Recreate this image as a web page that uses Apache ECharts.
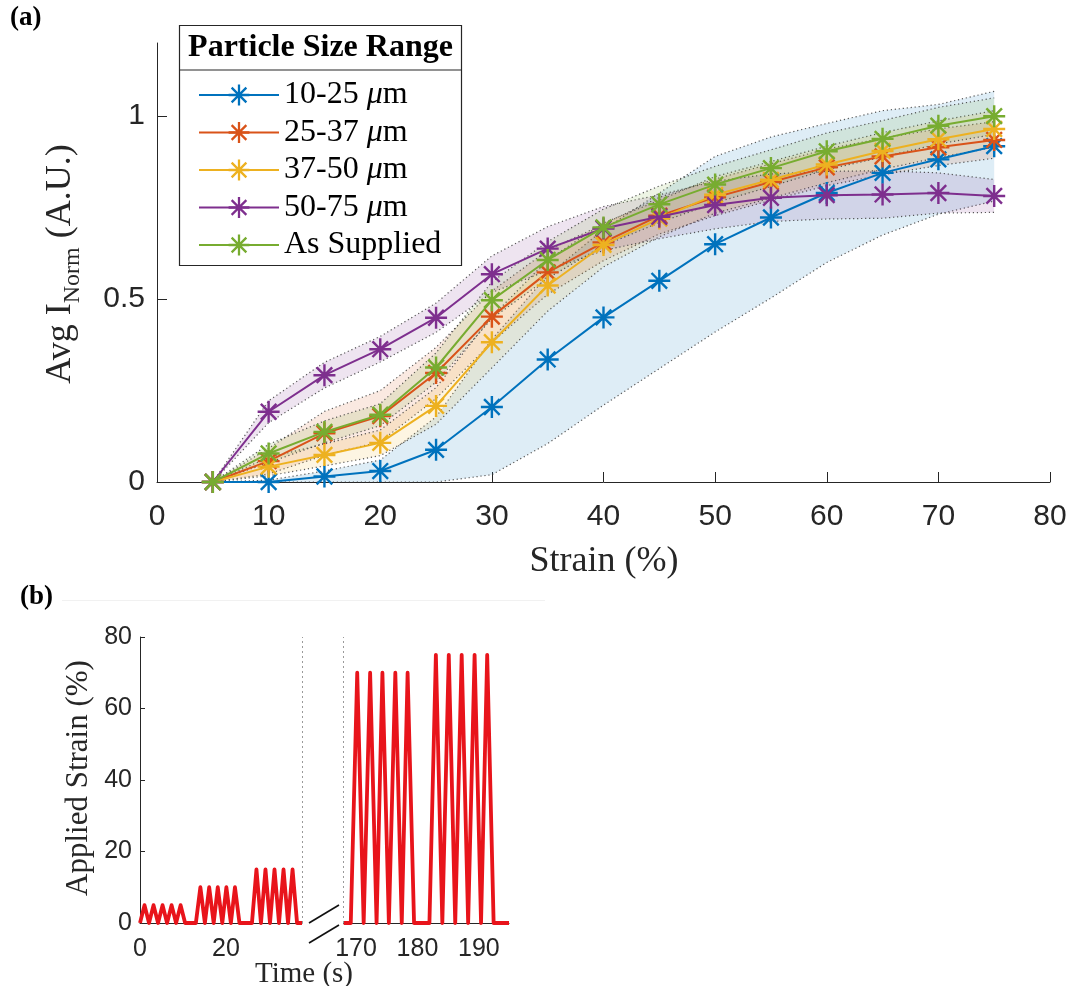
<!DOCTYPE html>
<html>
<head>
<meta charset="utf-8">
<script src="https://cdn.jsdelivr.net/npm/echarts@6/dist/echarts.min.js"></script>
<style>
  html, body { margin: 0; padding: 0; background: #fff; }
  #chart { width: 1075px; height: 986px; }
</style>
</head>
<body>
<div id="chart"></div>
<script>
// ---------- Panel (a): normalised intensity vs strain ----------
const strain = [5, 10, 15, 20, 25, 30, 35, 40, 45, 50, 55, 60, 65, 70, 75];

const sizeRanges = ['10-25 μm', '25-37 μm', '37-50 μm', '50-75 μm', 'As Supplied'];
const seriesColors = ['#0072BD', '#D95319', '#EDB120', '#7E2F8E', '#77AC30'];

const mean_10_25 = [0, 0.0, 0.015, 0.03, 0.088, 0.205, 0.335, 0.45, 0.55, 0.65, 0.723, 0.79, 0.845, 0.882, 0.918];
const mean_25_37 = [0, 0.057, 0.133, 0.18, 0.298, 0.452, 0.573, 0.655, 0.728, 0.778, 0.82, 0.86, 0.89, 0.915, 0.935];
const mean_37_50 = [0, 0.042, 0.074, 0.107, 0.208, 0.382, 0.537, 0.648, 0.72, 0.785, 0.826, 0.868, 0.905, 0.937, 0.965];
const mean_50_75 = [0, 0.192, 0.292, 0.363, 0.449, 0.568, 0.638, 0.693, 0.725, 0.757, 0.777, 0.784, 0.786, 0.79, 0.782];
const mean_asSupplied = [0, 0.078, 0.137, 0.184, 0.313, 0.497, 0.607, 0.696, 0.759, 0.813, 0.858, 0.904, 0.938, 0.974, 1.0];

// spread (one standard deviation) around each mean
const sd_10_25 = [0, 0.005, 0.015, 0.03, 0.09, 0.185, 0.23, 0.24, 0.24, 0.24, 0.22, 0.19, 0.17, 0.15, 0.15];
const sd_25_37 = [0, 0.035, 0.06, 0.07, 0.07, 0.07, 0.06, 0.05, 0.05, 0.05, 0.05, 0.05, 0.05, 0.05, 0.05];
const sd_37_50 = [0, 0.025, 0.03, 0.035, 0.05, 0.07, 0.07, 0.06, 0.05, 0.05, 0.05, 0.05, 0.05, 0.05, 0.05];
const sd_50_75 = [0, 0.03, 0.035, 0.035, 0.04, 0.05, 0.06, 0.06, 0.06, 0.065, 0.065, 0.065, 0.065, 0.055, 0.045];
const sd_asSupplied = [0, 0.025, 0.03, 0.03, 0.04, 0.05, 0.05, 0.05, 0.05, 0.05, 0.05, 0.05, 0.05, 0.05, 0.05];

const strainTicks = [0, 10, 20, 30, 40, 50, 60, 70, 80];
const intensityTicks = [0, 0.5, 1];

// ---------- Panel (b): applied strain programme ----------
// each pulse rises from 0 to its peak and back to 0 within one cycle
const halfCycle = 1.05;
const peakTimesEarly = [1.05, 3.15, 5.25, 7.35, 9.45, 14.05, 16.1, 18.1, 20.1, 22.1, 27.1, 29.2, 31.3, 33.4, 35.5];
const peakStrainEarly = [5, 5, 5, 5, 5, 10, 10, 10, 10, 10, 15, 15, 15, 15, 15];
const peakTimesLate = [170.2, 172.3, 174.3, 176.4, 178.4, 183.0, 185.1, 187.2, 189.3, 191.35];
const peakStrainLate = [70, 70, 70, 70, 70, 75, 75, 75, 75, 75];
const earlyRange = [0, 37.7];
const lateRange = [168.0, 194.9];
const earlyTimeTicks = [0, 20];
const lateTimeTicks = [170, 180, 190];
const appliedStrainTicks = [0, 20, 40, 60, 80];

const means = [mean_10_25, mean_25_37, mean_37_50, mean_50_75, mean_asSupplied];
const sds = [sd_10_25, sd_25_37, sd_37_50, sd_50_75, sd_asSupplied];

const SERIF = '"Liberation Serif", "Times New Roman", serif';
const SANS = '"Liberation Sans", Arial, sans-serif';
const INK = '#262626';

// eight-armed asterisk marker built from four thin bars
const ASTERISK = 'path://M0 44.5L100 44.5L100 55.5L0 55.5Z' +
  'M44.5 0L55.5 0L55.5 100L44.5 100Z' +
  'M18.5 10.7L89.3 81.5L81.5 89.3L10.7 18.5Z' +
  'M89.3 18.5L18.5 89.3L10.7 81.5L81.5 10.7Z';

function rgba(hex, a) {
  const n = parseInt(hex.slice(1), 16);
  return 'rgba(' + (n >> 16) + ',' + ((n >> 8) & 255) + ',' + (n & 255) + ',' + a + ')';
}

function bandSeries(k) {
  const hi = means[k].map((m, i) => m + sds[k][i]);
  const lo = means[k].map((m, i) => Math.max(0, m - sds[k][i]));
  return {
    type: 'custom',
    xAxisIndex: 0, yAxisIndex: 0,
    silent: true, z: 1,
    data: [[strain[0], 0]],
    renderItem: function (params, api) {
      const top = strain.map((x, i) => api.coord([x, hi[i]]));
      const bot = strain.map((x, i) => api.coord([x, lo[i]]));
      const edge = { stroke: 'rgba(60,60,60,0.85)', lineWidth: 1.2, lineDash: [1.2, 2.8], fill: null };
      return {
        type: 'group',
        children: [
          { type: 'polygon', shape: { points: top.concat(bot.slice().reverse()) },
            style: { fill: rgba(seriesColors[k], 0.13), stroke: null } },
          { type: 'polyline', shape: { points: top }, style: edge },
          { type: 'polyline', shape: { points: bot }, style: edge }
        ]
      };
    }
  };
}

function lineSeries(k) {
  return {
    name: sizeRanges[k],
    type: 'line',
    xAxisIndex: 0, yAxisIndex: 0,
    data: strain.map((x, i) => [x, means[k][i]]),
    symbol: ASTERISK,
    symbolSize: 22,
    showSymbol: true,
    lineStyle: { width: 2, color: seriesColors[k] },
    itemStyle: { color: seriesColors[k] },
    z: 3 + k
  };
}

function pulseTrace(peaks, amps, range) {
  const pts = [[range[0], 0]];
  peaks.forEach((t, i) => {
    pts.push([t - halfCycle, 0], [t, amps[i]], [t + halfCycle, 0]);
  });
  pts.push([range[1], 0]);
  return pts;
}

// text measuring for the composed y-axis title of panel (a)
const measureCtx = document.createElement('canvas').getContext('2d');
function textWidth(t, size) {
  measureCtx.font = size + 'px ' + SERIF;
  return measureCtx.measureText(t).width;
}
const YT_MAIN = 36, YT_SUB = 24;
const ytParts = ['Avg I', 'Norm', ' (A.U.)'];
const ytW = [textWidth(ytParts[0], YT_MAIN), textWidth(ytParts[1], YT_SUB), textWidth(ytParts[2], YT_MAIN)];
const ytTotal = ytW[0] + ytW[1] + ytW[2];
const ytCenterY = 264, ytMainX = 61, ytSubX = 73;
const ytStart = ytCenterY + ytTotal / 2;

const chart = echarts.init(document.getElementById('chart'), null, { renderer: 'canvas' });

const series = [];
for (let k = 0; k < 5; k++) series.push(bandSeries(k));
for (let k = 0; k < 5; k++) series.push(lineSeries(k));

const redTrace = {
  type: 'line', symbol: 'none', clip: true,
  lineStyle: { width: 3.8, color: '#E8141B', join: 'round' },
  itemStyle: { color: '#E8141B' },
  z: 3
};
const breakLine = {
  silent: true, symbol: ['none', 'none'], label: { show: false },
  lineStyle: { type: [2, 3], color: '#9a9a9a', width: 1 }
};
series.push(Object.assign({}, redTrace, {
  xAxisIndex: 1, yAxisIndex: 1,
  data: pulseTrace(peakTimesEarly, peakStrainEarly, earlyRange),
  markLine: Object.assign({}, breakLine, { data: [{ xAxis: earlyRange[1] }] })
}));
series.push(Object.assign({}, redTrace, {
  xAxisIndex: 2, yAxisIndex: 2,
  data: pulseTrace(peakTimesLate, peakStrainLate, lateRange),
  markLine: Object.assign({}, breakLine, { data: [{ xAxis: lateRange[0] }] })
}));

const axisLineStyle = { show: true, lineStyle: { color: INK, width: 1 } };

const option = {
  backgroundColor: '#ffffff',
  animation: false,
  grid: [
    { left: 157, right: 25, top: 43, bottom: 504 },
    { left: 140, right: 773, top: 637, bottom: 63 },
    { left: 343.7, right: 566, top: 637, bottom: 63 }
  ],
  xAxis: [
    {
      type: 'value', gridIndex: 0, min: 0, max: 80, interval: 10,
      axisLine: axisLineStyle,
      axisTick: { show: true, inside: true, length: 10, lineStyle: { color: INK } },
      axisLabel: { color: INK, fontFamily: SANS, fontSize: 30, margin: 20,
        customValues: strainTicks },
      splitLine: { show: false }
    },
    {
      type: 'value', gridIndex: 1, min: earlyRange[0], max: earlyRange[1],
      axisLine: axisLineStyle,
      axisTick: { show: false },
      axisLabel: { color: INK, fontFamily: SANS, fontSize: 25, margin: 14,
        customValues: earlyTimeTicks },
      splitLine: { show: false }
    },
    {
      type: 'value', gridIndex: 2, min: lateRange[0], max: lateRange[1],
      axisLine: axisLineStyle,
      axisTick: { show: false },
      axisLabel: { color: INK, fontFamily: SANS, fontSize: 25, margin: 14,
        customValues: lateTimeTicks },
      splitLine: { show: false }
    }
  ],
  yAxis: [
    {
      type: 'value', gridIndex: 0, min: 0, max: 1.2,
      axisLine: axisLineStyle,
      axisTick: { show: true, inside: true, length: 10, lineStyle: { color: INK },
        customValues: intensityTicks },
      axisLabel: { color: INK, fontFamily: SANS, fontSize: 30, margin: 12,
        customValues: intensityTicks },
      splitLine: { show: false }
    },
    {
      type: 'value', gridIndex: 1, min: 0, max: 80, interval: 20,
      axisLine: axisLineStyle,
      axisTick: { show: true, inside: true, length: 5, lineStyle: { color: INK } },
      axisLabel: { color: INK, fontFamily: SANS, fontSize: 25, margin: 8,
        customValues: appliedStrainTicks },
      splitLine: { show: false }
    },
    {
      type: 'value', gridIndex: 2, min: 0, max: 80, show: false
    }
  ],
  legend: {
    data: sizeRanges,
    orient: 'vertical',
    left: 198, top: 79,
    itemWidth: 80, itemHeight: 26, itemGap: 5.5,
    padding: 0,
    selectedMode: false,
    textStyle: {
      color: '#000', fontFamily: SERIF, fontSize: 32, lineHeight: 32,
      rich: { i: { fontStyle: 'italic', fontFamily: SERIF, fontSize: 32, color: '#000' } }
    },
    formatter: name => name.replace('μ', '{i|μ}')
  },
  graphic: [
    // legend frame and heading
    { type: 'rect', shape: { x: 179.5, y: 25.5, width: 282, height: 240 },
      style: { fill: null, stroke: INK, lineWidth: 1.2 }, z: 0 },
    { type: 'line', shape: { x1: 179.5, y1: 70, x2: 461.5, y2: 70 },
      style: { stroke: INK, lineWidth: 1.2 } },
    { type: 'text', x: 320.5, y: 48,
      style: { text: 'Particle Size Range', font: 'bold 32px ' + SERIF, fill: '#000',
        textAlign: 'center', textVerticalAlign: 'middle' } },
    // panel tags
    { type: 'text', x: 10, y: 18,
      style: { text: '(a)', font: 'bold 27px ' + SERIF, fill: '#000',
        textAlign: 'left', textVerticalAlign: 'middle' } },
    { type: 'text', x: 20, y: 597,
      style: { text: '(b)', font: 'bold 27px ' + SERIF, fill: '#000',
        textAlign: 'left', textVerticalAlign: 'middle' } },
    { type: 'line', shape: { x1: 62, y1: 600.5, x2: 545, y2: 600.5 },
      style: { stroke: '#f1f1f1', lineWidth: 1 } },
    // panel (a) axis titles
    { type: 'text', x: ytMainX, y: ytStart, rotation: Math.PI / 2,
      style: { text: ytParts[0], font: YT_MAIN + 'px ' + SERIF, fill: INK,
        textAlign: 'left', textVerticalAlign: 'middle' } },
    { type: 'text', x: ytSubX, y: ytStart - ytW[0], rotation: Math.PI / 2,
      style: { text: ytParts[1], font: YT_SUB + 'px ' + SERIF, fill: INK,
        textAlign: 'left', textVerticalAlign: 'middle' } },
    { type: 'text', x: ytMainX, y: ytStart - ytW[0] - ytW[1], rotation: Math.PI / 2,
      style: { text: ytParts[2], font: YT_MAIN + 'px ' + SERIF, fill: INK,
        textAlign: 'left', textVerticalAlign: 'middle' } },
    { type: 'text', x: 604, y: 562,
      style: { text: 'Strain (%)', font: '36px ' + SERIF, fill: INK,
        textAlign: 'center', textVerticalAlign: 'middle' } },
    // panel (b) axis titles
    { type: 'text', x: 79, y: 778, rotation: Math.PI / 2,
      style: { text: 'Applied Strain (%)', font: '31px ' + SERIF, fill: INK,
        textAlign: 'center', textVerticalAlign: 'middle' } },
    { type: 'text', x: 304, y: 974,
      style: { text: 'Time (s)', font: '29px ' + SERIF, fill: INK,
        textAlign: 'center', textVerticalAlign: 'middle' } },
    // axis-break marks
    { type: 'line', shape: { x1: 309, y1: 923, x2: 339, y2: 905 },
      style: { stroke: '#111', lineWidth: 1.6 } },
    { type: 'line', shape: { x1: 309, y1: 943, x2: 339, y2: 925 },
      style: { stroke: '#111', lineWidth: 1.6 } }
  ],
  series: series
};

chart.setOption(option);
</script>
</body>
</html>
